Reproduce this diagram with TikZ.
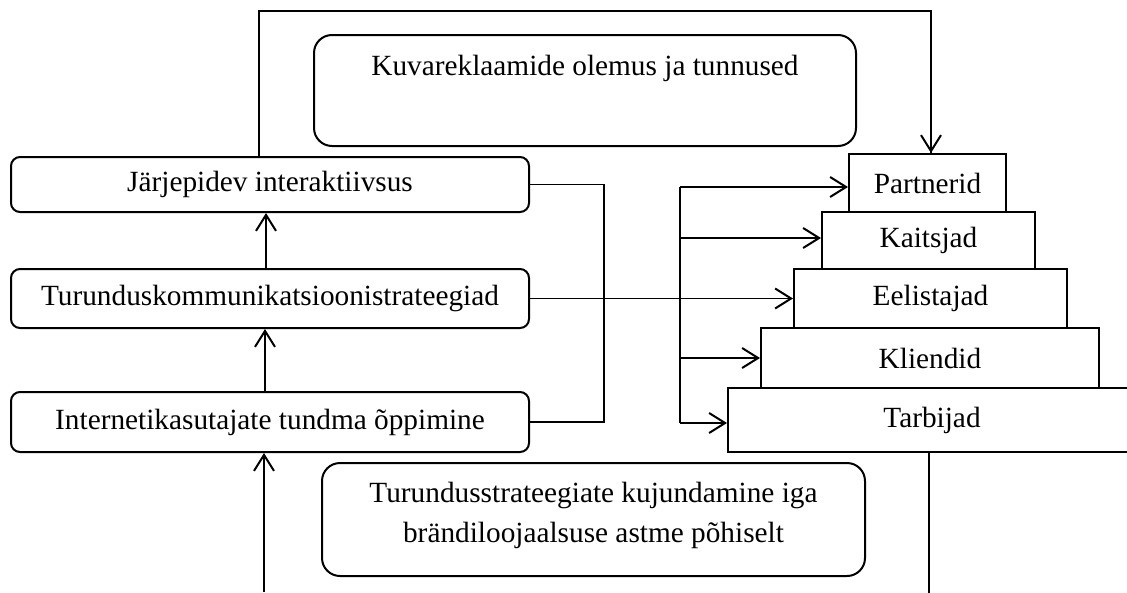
\documentclass[tikz,border=0pt]{standalone}
\usepackage{fontspec}
\setmainfont{Liberation Serif}
\usetikzlibrary{arrows.meta}
\tikzset{
  base/.style={font=\fontsize{29.3}{40}\selectfont, inner sep=0pt, line width=2pt},
  rbox/.style={base, draw, rounded corners=9pt},
  bigbox/.style={base, draw, rounded corners=18pt},
  tier/.style={base, draw},
  conn/.style={line width=1.5pt},
  thick conn/.style={line width=2pt},
  arr/.style={thick conn, -{Straight Barb[length=16pt,width=20pt,line width=2pt]}},
  thin arr/.style={conn, -{Straight Barb[length=16pt,width=20pt,line width=2pt]}},
}
\begin{document}
\begin{tikzpicture}[x=1pt, y=-1pt]
  \path[use as bounding box, clip] (0,0) rectangle (1127,592);

  % left column
  \node[rbox, minimum width=518pt, minimum height=55pt] (jarj) at (270,184.5) {Järjepidev interaktiivsus};
  \node[rbox, minimum width=518pt, minimum height=59pt] (turu) at (270,298.5) {Turunduskommunikatsioonistrateegiad};
  \node[rbox, minimum width=518pt, minimum height=60pt] (inte) at (270,422) {Internetikasutajate tundma õppimine};

  % framing boxes
  \node[bigbox, minimum width=542pt, minimum height=111pt,
        label={[base, anchor=center, yshift=-34pt]north:Kuvareklaamide olemus ja tunnused}] (kuva) at (585,90.5) {};
  \node[bigbox, minimum width=543pt, minimum height=113pt,
        label={[base, align=center, anchor=center, yshift=4.5pt]center:Turundusstrateegiate kujundamine iga\\brändiloojaalsuse astme põhiselt}] (strat) at (593.5,519.5) {};

  % loyalty pyramid
  \node[tier, minimum width=157pt, minimum height=58pt] (part) at (927.5,183) {Partnerid};
  \node[tier, minimum width=213pt, minimum height=57pt] (kai) at (928.5,240.5) {Kaitsjad};
  \node[tier, minimum width=273pt, minimum height=59pt] (eel) at (930.5,298.5) {Eelistajad};
  \node[tier, minimum width=338pt, minimum height=60pt] (kli) at (930,358) {Kliendid};
  \node[tier, minimum width=408pt, minimum height=64pt] (tar) at (932,420) {Tarbijad};

  % upward chain
  \coordinate (bot) at (264,592);
  \draw[arr] (bot) -- (bot |- inte.south);
  \draw[arr] ([xshift=-5pt]inte.north) -- ([xshift=-5pt]turu.south);
  \draw[arr] ([xshift=-4pt]turu.north) -- ([xshift=-4pt]jarj.south);

  % loop over the top into the pyramid
  \draw[conn] ([xshift=-11pt]jarj.north) -- ++(0,-145) -| ([xshift=3.5pt]part.north);
  \draw[thin arr] ([xshift=3.5pt,yshift=30pt]part.north) -- ([xshift=3.5pt]part.north);

  % bracket on the right of the left column
  \draw[conn] (jarj.east) -- ++(74,0) |- (inte.east);

  % strategy arrow
  \draw[thin arr] (turu.east) -- (eel.west);

  % distribution bar
  \coordinate (hubtop) at (680,187);
  \coordinate (hubkai) at (680,238);
  \coordinate (hubkli) at (680,358);
  \coordinate (hubbot) at (680,423);
  \draw[thick conn] (hubtop) -- (hubbot);
  \draw[arr] (hubtop) -- (hubtop -| part.west);
  \draw[arr] (hubkai) -- (hubkai -| kai.west);
  \draw[arr] (hubkli) -- (hubkli -| kli.west);
  \draw[arr] (hubbot) -- (hubbot -| tar.west);

  % line down from the base tier
  \draw[conn] ([xshift=-3pt]tar.south) -- ++(0,150);
\end{tikzpicture}
\end{document}
